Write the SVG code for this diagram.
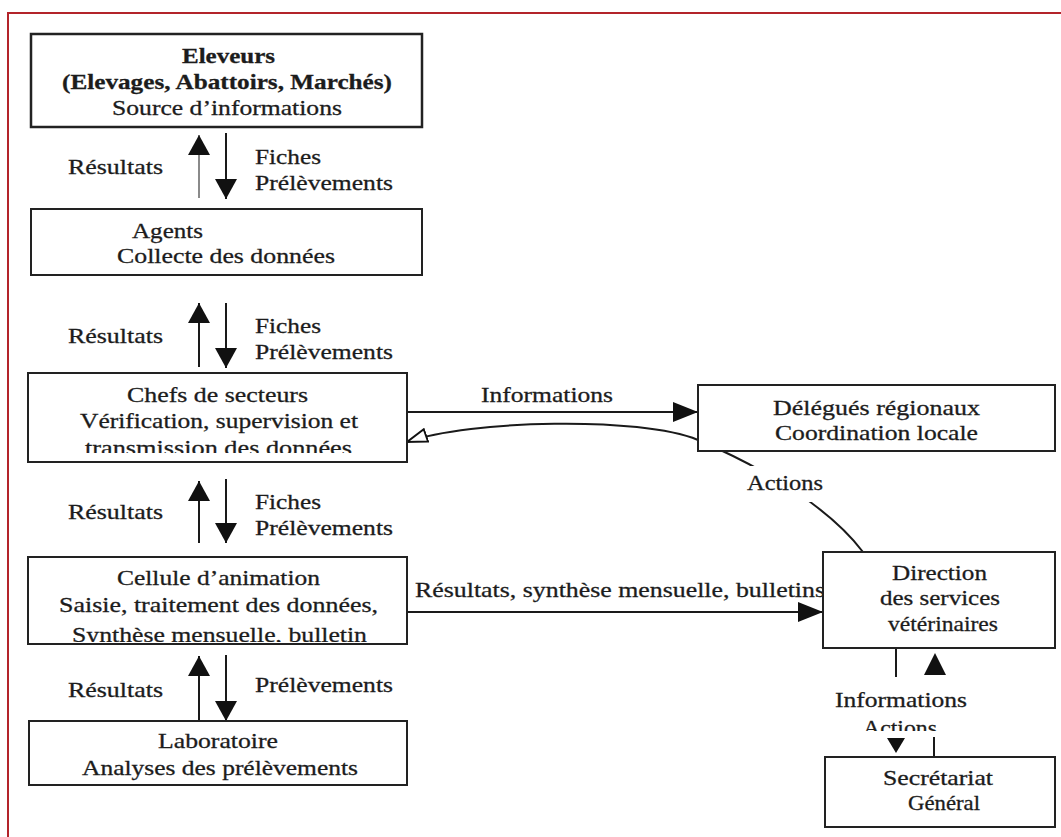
<svg xmlns="http://www.w3.org/2000/svg" width="1061" height="837" viewBox="0 0 1061 837">
<style>
.box{fill:#fff;stroke:#222;stroke-width:2}
.t{font-family:"Liberation Serif","Times New Roman",serif;font-size:22px;fill:#1c1c1c;stroke:#1c1c1c;stroke-width:0.3}
.b{font-weight:bold}
.s{font-size:21px}
.ln{fill:none;stroke:#1a1a1a;stroke-width:2}
</style>
<defs>
<marker id="ah" viewBox="0 0 20 22" refX="20" refY="11" markerWidth="20" markerHeight="22" orient="auto" markerUnits="userSpaceOnUse"><path d="M0,0 L20,11 L0,22 z" fill="#111"/></marker>
<marker id="ahh" viewBox="0 0 25 20" refX="25" refY="10" markerWidth="25" markerHeight="20" orient="auto" markerUnits="userSpaceOnUse"><path d="M0,0 L25,10 L0,20 z" fill="#111"/></marker>
<marker id="aho" viewBox="0 0 22 16" refX="21" refY="8" markerWidth="22" markerHeight="16" orient="auto" markerUnits="userSpaceOnUse"><path d="M1,1.5 L21,8 L1,14.5 z" fill="#fff" stroke="#111" stroke-width="2"/></marker>
<clipPath id="c3"><rect x="0" y="0" width="1061" height="453"/></clipPath>
<clipPath id="c4"><rect x="0" y="0" width="1061" height="642"/></clipPath>
<clipPath id="c5"><rect x="0" y="0" width="1061" height="731"/></clipPath>
</defs>
<rect x="0" y="0" width="1061" height="837" fill="#fff"/>
<g id="frame" fill="none" stroke="#b3242a" stroke-width="2">
<path d="M1061 13 H8 V837"/>
</g>

<g id="connectors">
<path d="M199 198 V135" class="ln" style="stroke:#8a8a8a" marker-end="url(#ah)"/>
<path d="M226 133 V199" class="ln" marker-end="url(#ah)"/>
<path d="M199 367 V303" class="ln" marker-end="url(#ah)"/>
<path d="M226 303 V368" class="ln" marker-end="url(#ah)"/>
<path d="M199 543 V481" class="ln" marker-end="url(#ah)"/>
<path d="M226 479 V543" class="ln" marker-end="url(#ah)"/>
<path d="M199 721 V656" class="ln" marker-end="url(#ah)"/>
<path d="M226 655 V721" class="ln" marker-end="url(#ah)"/>
<path d="M407 412 H698" class="ln" marker-end="url(#ahh)"/>
<path d="M408 612 H823" class="ln" marker-end="url(#ahh)"/>
<path d="M863 552 C835 515 780 475 698 440 C640 416 470 420 407 442" class="ln" marker-end="url(#aho)"/>
<rect x="742" y="466" width="86" height="36" fill="#fff"/>
<path d="M896 648 V677" class="ln"/>
<path d="M934 757 V737" class="ln"/>
<polygon points="935,653 946,675 924,675" fill="#111"/>
<polygon points="887,738 905,738 896,753" fill="#111"/>
<text class="t" x="68" y="174" textLength="95" lengthAdjust="spacingAndGlyphs">Résultats</text>
<text class="t" x="255" y="164" textLength="66" lengthAdjust="spacingAndGlyphs">Fiches</text>
<text class="t" x="255" y="190" textLength="138" lengthAdjust="spacingAndGlyphs">Prélèvements</text>
<text class="t" x="68" y="343" textLength="95" lengthAdjust="spacingAndGlyphs">Résultats</text>
<text class="t" x="255" y="333" textLength="66" lengthAdjust="spacingAndGlyphs">Fiches</text>
<text class="t" x="255" y="359" textLength="138" lengthAdjust="spacingAndGlyphs">Prélèvements</text>
<text class="t" x="68" y="519" textLength="95" lengthAdjust="spacingAndGlyphs">Résultats</text>
<text class="t" x="255" y="509" textLength="66" lengthAdjust="spacingAndGlyphs">Fiches</text>
<text class="t" x="255" y="535" textLength="138" lengthAdjust="spacingAndGlyphs">Prélèvements</text>
<text class="t" x="68" y="697" textLength="95" lengthAdjust="spacingAndGlyphs">Résultats</text>
<text class="t" x="255" y="692" textLength="138" lengthAdjust="spacingAndGlyphs">Prélèvements</text>
<text class="t" x="481" y="402" textLength="132" lengthAdjust="spacingAndGlyphs">Informations</text>
<text class="t" x="747" y="490" textLength="76" lengthAdjust="spacingAndGlyphs">Actions</text>
<text class="t" x="415" y="597" textLength="410" lengthAdjust="spacingAndGlyphs">Résultats, synthèse mensuelle, bulletins</text>
<text class="t" x="835" y="707" textLength="132" lengthAdjust="spacingAndGlyphs">Informations</text>
<text class="t" x="863" y="735" textLength="74" lengthAdjust="spacingAndGlyphs" clip-path="url(#c5)">Actions</text>
</g>

<g id="eleveurs">
<rect class="box" x="31" y="34" width="391" height="93" style="stroke-width:2.5"/>
<text class="t b" x="182" y="63" textLength="93" lengthAdjust="spacingAndGlyphs">Eleveurs</text>
<text class="t b" x="62" y="89" textLength="330" lengthAdjust="spacingAndGlyphs">(Elevages, Abattoirs, Marchés)</text>
<text class="t" x="112" y="115" textLength="230" lengthAdjust="spacingAndGlyphs">Source d’informations</text>
</g>

<g id="agents">
<rect class="box" x="31" y="209" width="391" height="66"/>
<text class="t" x="132" y="238" textLength="71" lengthAdjust="spacingAndGlyphs">Agents</text>
<text class="t" x="117" y="263" textLength="218" lengthAdjust="spacingAndGlyphs">Collecte des données</text>
</g>

<g id="chefs">
<rect class="box" x="28" y="373" width="379" height="89"/>
<text class="t" x="127" y="402" textLength="181" lengthAdjust="spacingAndGlyphs">Chefs de secteurs</text>
<text class="t" x="80" y="428" textLength="278" lengthAdjust="spacingAndGlyphs">Vérification, supervision et</text>
<text class="t" x="85" y="455" textLength="267" lengthAdjust="spacingAndGlyphs" clip-path="url(#c3)">transmission des données</text>
</g>

<g id="cellule">
<rect class="box" x="28" y="557" width="379" height="87"/>
<text class="t" x="117" y="585" textLength="203" lengthAdjust="spacingAndGlyphs">Cellule d’animation</text>
<text class="t" x="59" y="612" textLength="319" lengthAdjust="spacingAndGlyphs">Saisie, traitement des données,</text>
<text class="t" x="72" y="642" textLength="295" lengthAdjust="spacingAndGlyphs" clip-path="url(#c4)">Synthèse mensuelle, bulletin</text>
</g>

<g id="laboratoire">
<rect class="box" x="29" y="721" width="378" height="64"/>
<text class="t" x="158" y="748" textLength="120" lengthAdjust="spacingAndGlyphs">Laboratoire</text>
<text class="t" x="82" y="775" textLength="276" lengthAdjust="spacingAndGlyphs">Analyses des prélèvements</text>
</g>

<g id="delegues">
<rect class="box" x="698" y="385" width="357" height="66"/>
<text class="t" x="773" y="415" textLength="207" lengthAdjust="spacingAndGlyphs">Délégués régionaux</text>
<text class="t" x="775" y="440" textLength="203" lengthAdjust="spacingAndGlyphs">Coordination locale</text>
</g>

<g id="direction">
<rect class="box" x="823" y="552" width="232" height="96"/>
<text class="t" x="892" y="580" textLength="95" lengthAdjust="spacingAndGlyphs">Direction</text>
<text class="t" x="880" y="605" textLength="120" lengthAdjust="spacingAndGlyphs">des services</text>
<text class="t" x="888" y="631" textLength="110" lengthAdjust="spacingAndGlyphs">vétérinaires</text>
</g>

<g id="secretariat">
<rect class="box" x="825" y="757" width="230" height="70"/>
<text class="t s" x="883" y="785" textLength="110" lengthAdjust="spacingAndGlyphs">Secrétariat</text>
<text class="t s" x="908" y="810" textLength="72" lengthAdjust="spacingAndGlyphs">Général</text>
</g>
</svg>
